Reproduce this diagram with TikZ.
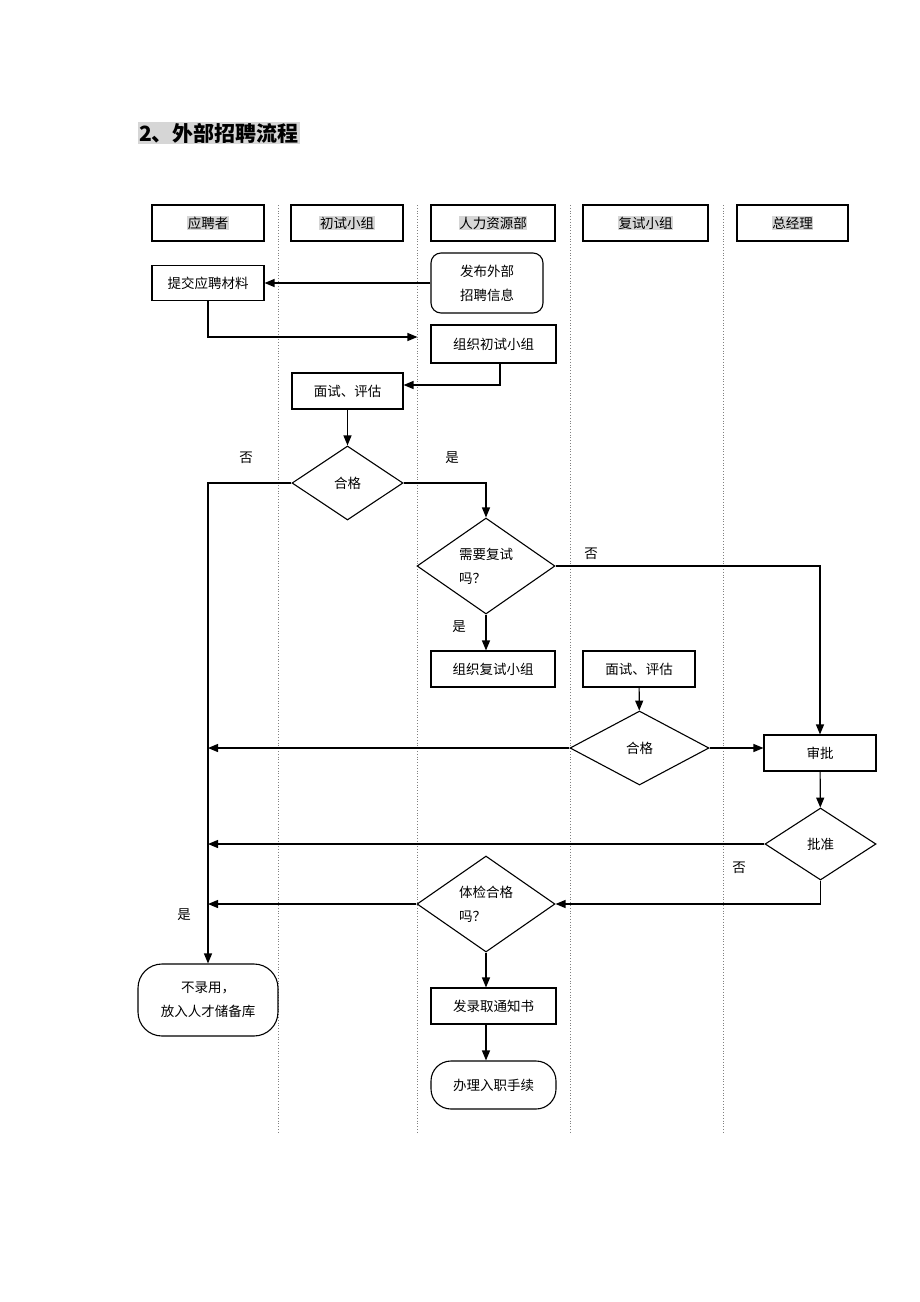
\documentclass[tikz,border=0pt]{standalone}
\usepackage{fontspec}
\setmainfont{Noto Sans CJK SC}
\usetikzlibrary{shapes.geometric, arrows.meta, positioning}
\definecolor{hlgray}{gray}{0.84}
\tikzstyle{lane} = [gray, dotted, line width=0.8pt]
\tikzstyle{header} = [rectangle, draw=black, line width=1.1pt, minimum width=112pt, minimum height=36pt, inner sep=0pt]
\tikzstyle{process} = [rectangle, draw=black, line width=1.1pt, minimum width=112pt, minimum height=36pt, text centered, inner sep=0pt]
\tikzstyle{terminal} = [rectangle, rounded corners=20pt, draw=black, line width=1.1pt, minimum width=125pt, minimum height=48pt, align=center, inner sep=0pt]
\tikzstyle{decision} = [diamond, draw=black, line width=1.1pt, minimum width=138pt, minimum height=96pt, align=left, inner sep=0pt]
\tikzstyle{arrow} = [line width=1.2pt, -{Triangle[length=10pt,width=8pt]}]
\newcommand{\hl}[1]{{\setlength{\fboxsep}{0.6pt}\colorbox{hlgray}{#1}}}

\begin{document}
\begin{tikzpicture}[x=1pt, y=-1pt, every node/.style={font=\fontsize{13.5pt}{24pt}\selectfont}]
\useasboundingbox (0,0) rectangle (920,1302);

% title
\node (title) [fill=hlgray, inner sep=1pt, font=\fontsize{21pt}{24pt}\selectfont\bfseries] at (219,133) {2、外部招聘流程};

% lanes
\foreach \x in {278,417,570,723}
  \draw [lane] (\x,205) -- (\x,1133);

\node (applicant) [header] at (208,223) {\hl{应聘者}};
\node (firstgrp) [header] at (347,223) {\hl{初试小组}};
\node (hr) [header, minimum width=124pt] at (493,223) {\hl{人力资源部}};
\node (secondgrp) [header, minimum width=125pt] at (645.5,223) {\hl{复试小组}};
\node (manager) [header, minimum width=111pt] at (792.5,223) {\hl{总经理}};

\node (submit) [process, minimum height=35pt] at (208,283) {提交应聘材料};
\node (publish) [terminal, rounded corners=10pt, minimum width=112pt, minimum height=60pt] at (487,283) {发布外部\\招聘信息};
\node (orgfirst) [process, minimum width=125pt, minimum height=38pt] at (493.5,344) {组织初试小组};
\node (interview1) [process, minimum width=111pt] at (347.5,391) {面试、评估};

\node (pass1) [decision, minimum width=111pt, minimum height=74pt] at (347.5,483) {合格};
\node (needsecond) [decision] at (486,566) {需要复试\\吗？};

\node (orgsecond) [process, minimum width=124pt] at (493,669) {组织复试小组};
\node (interview2) [process] at (639,669) {面试、评估};
\node (pass2) [decision, minimum width=139pt, minimum height=74pt] at (639.5,748) {合格};
\node (review) [process] at (820,753) {审批};
\node (approve) [decision, minimum width=111pt, minimum height=72pt] at (820.5,844) {批准};
\node (physical) [decision] at (486,904) {体检合格\\吗？};

\node (reject) [terminal, rounded corners=24pt, minimum width=140pt, minimum height=72pt] at (208,1000) {不录用，\\放入人才储备库};
\node (offer) [process, minimum width=125pt] at (493.5,1006) {发录取通知书};
\node (onboard) [terminal] at (493.5,1085) {办理入职手续};

% labels
\node (no1) at (246,458) {否};
\node (yes1) at (452,458) {是};
\node (no2) at (591,554) {否};
\node (yes2) at (459,627) {是};
\node (no3) at (739,868) {否};
\node (yes3) at (184,915) {是};

% connectors
\draw [arrow] (publish) -- (submit);
\draw [arrow, shorten >=13pt] (submit.south) |- ([yshift=7pt]orgfirst.west);
\draw [arrow] ([xshift=6.5pt]orgfirst.south) |- ([yshift=6pt]interview1.east);
\draw [arrow] (interview1) -- (pass1);
\draw [arrow] (pass1.west) -| (reject.north);
\draw [arrow] (pass1.east) -| (needsecond.north);
\draw [arrow] (needsecond.east) -| (review.north);
\draw [arrow] (needsecond.south) -- (needsecond.south |- orgsecond.north);
\draw [arrow] (interview2) -- (pass2);
\draw [arrow] (pass2.east) -- (pass2.east -| review.west);
\draw [arrow] (pass2.west) -- (pass2.west -| reject.north);
\draw [arrow] (review) -- (approve);
\draw [arrow] (approve.west) -- (approve.west -| reject.north);
\draw [arrow] (approve.south) |- (physical.east);
\draw [arrow] (physical.west) -- (physical.west -| reject.north);
\draw [arrow] (physical.south) -- (physical.south |- offer.north);
\draw [arrow] (physical.south |- offer.south) -- (physical.south |- onboard.north);

\end{tikzpicture}
\end{document}
